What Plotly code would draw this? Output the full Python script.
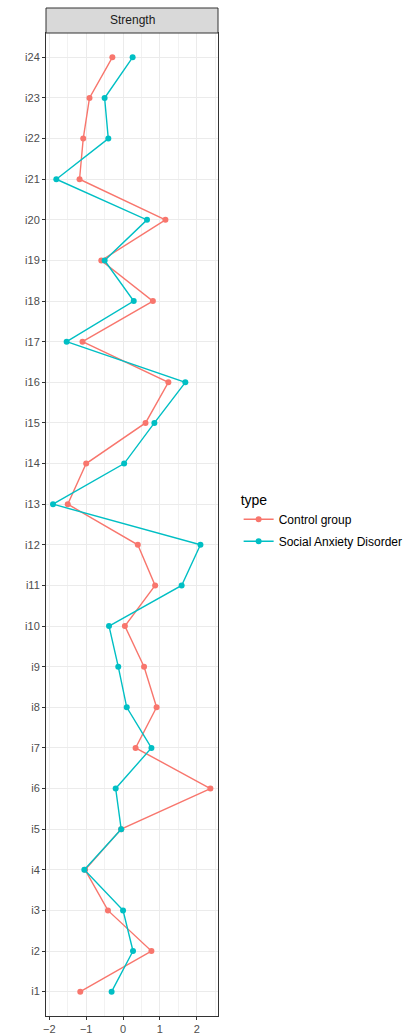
import plotly.graph_objects as go

items = [f"i{i}" for i in range(1, 25)]
control = [-1.16, 0.77, -0.41, -1.03, -0.05, 2.37, 0.34, 0.91, 0.57, 0.05,
           0.87, 0.40, -1.50, -1.00, 0.61, 1.23, -1.10, 0.81, -0.59, 1.15,
           -1.18, -1.08, -0.91, -0.29]
sad = [-0.31, 0.27, 0.00, -1.05, -0.05, -0.20, 0.77, 0.10, -0.13, -0.38,
       1.59, 2.10, -1.90, 0.03, 0.85, 1.69, -1.53, 0.29, -0.50, 0.65,
       -1.81, -0.40, -0.50, 0.26]
series_names = ["Control group", "Social Anxiety Disorder"]
colors = ["#F8766D", "#00BFC4"]
x_ticks = [-2, -1, 0, 1, 2]
x_tick_labels = ["\u22122", "\u22121", "0", "1", "2"]

FONT = "Liberation Sans, Arial, Helvetica, sans-serif"

fig = go.Figure()
for name, vals, col in zip(series_names, [control, sad], colors):
    fig.add_trace(go.Scatter(
        x=vals, y=items, mode="lines+markers", name=name, legendgroup=name,
        line=dict(color=col, width=1.4),
        marker=dict(color=col, size=6),
    ))

panel_h = 1016 - 33
strip_top = 1 + 25 / panel_h

fig.update_layout(
    width=408, height=1035,
    margin=dict(l=46, r=190, t=33, b=19, autoexpand=False),
    paper_bgcolor="white", plot_bgcolor="white",
    font=dict(family=FONT, color="#4D4D4D", size=11),
    showlegend=True,
    legend=dict(
        title=dict(text="type", font=dict(size=14, color="black")),
        font=dict(size=12, color="black"),
        x=1.12, xanchor="left", y=0.503, yanchor="middle",
        itemwidth=30, traceorder="grouped", tracegroupgap=3,
        bgcolor="rgba(0,0,0,0)",
    ),
    xaxis=dict(
        automargin=False,
        range=[-2.09, 2.576], tickvals=x_ticks, ticktext=x_tick_labels,
        showgrid=True, gridcolor="#EBEBEB", gridwidth=1,
        minor=dict(dtick=0.5, tick0=0, showgrid=True, gridcolor="#F2F2F2", gridwidth=0.6),
        zeroline=False, showline=True, mirror=True, linecolor="#333333", linewidth=1,
        ticks="outside", ticklen=3, tickcolor="#333333",
        tickfont=dict(size=11, color="#4D4D4D"),
    ),
    yaxis=dict(
        automargin=False,
        type="category", categoryorder="array", categoryarray=items,
        range=[-0.6, 23.6],
        showgrid=True, gridcolor="#EBEBEB", gridwidth=1,
        zeroline=False, showline=True, mirror=True, linecolor="#333333", linewidth=1,
        ticks="outside", ticklen=3, tickcolor="#333333",
        tickfont=dict(size=11, color="#4D4D4D"),
    ),
    shapes=[dict(type="rect", xref="paper", yref="paper", x0=0, x1=1, y0=1, y1=strip_top,
                 fillcolor="#D9D9D9", line=dict(color="#333333", width=1), layer="above")],
    annotations=[dict(text="Strength", xref="paper", yref="paper", x=0.5,
                      y=(1 + strip_top) / 2, showarrow=False, yanchor="middle",
                      font=dict(size=12, color="#1A1A1A"))],
)

fig.write_html("out.html", config={"displayModeBar": False},
               post_script="document.body.style.margin='0';document.body.style.padding='0';document.body.style.overflow='hidden';")
